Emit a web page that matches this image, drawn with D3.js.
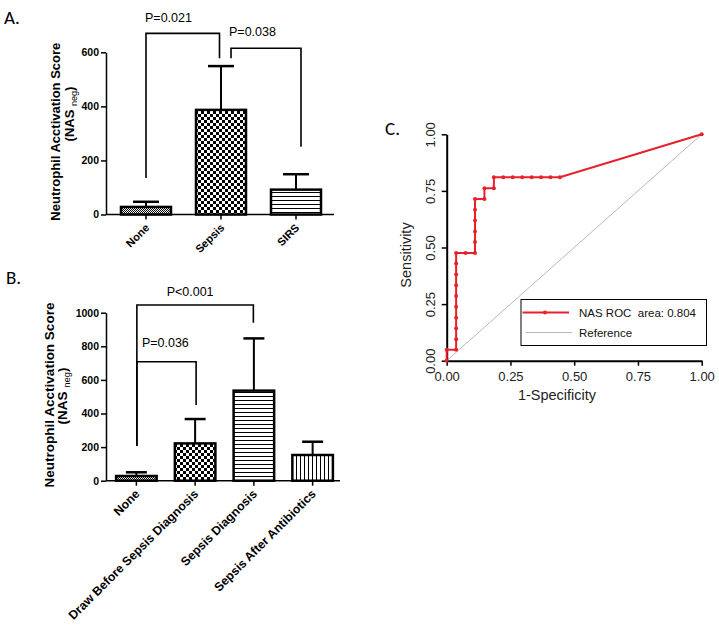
<!DOCTYPE html>
<html><head><meta charset="utf-8">
<script src="https://cdn.jsdelivr.net/npm/d3@7/dist/d3.min.js"></script>
<style>
html,body{margin:0;padding:0;background:#fff;}
svg{display:block;}
</style></head>
<body>
<svg id="c" width="719" height="628"></svg>
<script>
// ---------- DATA ----------
const catsA = ["None", "Sepsis", "SIRS"];
const meanA = [28, 387, 92];
const errA  = [47, 549, 149];
const patA  = ["fine", "checker", "hlines"];
const ticksA = [0, 200, 400, 600];

const catsB = ["None", "Draw Before Sepsis Diagnosis", "Sepsis Diagnosis", "Sepsis After Antibiotics"];
const meanB = [28, 222, 536, 153];
const errB  = [50, 367, 847, 232];
const patB  = ["fine", "checker", "hlines", "vlines"];
const ticksB = [0, 200, 400, 600, 800, 1000];

// brackets: [leftCat, rightCat, leftFootValue, topValue, rightFootValue, label]
const bracketsA = [
  ["None", "Sepsis", 135, 670, 578, "P=0.021"],
  ["Sepsis", "SIRS", 578, 615, 251, "P=0.038"]
];
const bracketsB = [
  ["None", "Sepsis Diagnosis", 207, 1046, 940, "P<0.001"],
  ["None", "Draw Before Sepsis Diagnosis", 207, 708, 450, "P=0.036"]
];

const rocFpr = [0, 0, 0.037, 0.037, 0.037, 0.037, 0.037, 0.037, 0.037, 0.037, 0.037, 0.037,
  0.074, 0.111, 0.111, 0.111, 0.111, 0.111, 0.111, 0.148, 0.148, 0.185, 0.185,
  0.222, 0.259, 0.296, 0.333, 0.370, 0.407, 0.444, 1];
const rocTpr = [0, 0.048, 0.048, 0.095, 0.143, 0.190, 0.238, 0.286, 0.333, 0.381, 0.429, 0.476,
  0.476, 0.476, 0.524, 0.571, 0.619, 0.667, 0.714, 0.714, 0.762, 0.762, 0.810,
  0.810, 0.810, 0.810, 0.810, 0.810, 0.810, 0.810, 1];
const rocTicks = [0, 0.25, 0.5, 0.75, 1];
const legendLabels = ["NAS ROC  area: 0.804", "Reference"];

// ---------- DRAW ----------
const svg = d3.select("#c");
const defs = svg.append("defs");
const FONT = "'Liberation Sans', Arial, sans-serif";
const LETTER_FONT = "Carlito, Calibri, 'Liberation Sans', sans-serif";

// patterns
function mkPattern(id, w, h, draw) {
  const p = defs.append("pattern").attr("id", id).attr("patternUnits", "userSpaceOnUse")
    .attr("width", w).attr("height", h);
  p.append("rect").attr("width", w).attr("height", h).attr("fill", "#fff");
  draw(p);
}
mkPattern("fine", 2, 2, p => {
  p.append("rect").attr("x", 0).attr("y", 0).attr("width", 1).attr("height", 1).attr("fill", "#000");
  p.append("rect").attr("x", 1).attr("y", 1).attr("width", 1).attr("height", 1).attr("fill", "#000");
});
mkPattern("checker", 6, 6, p => {
  p.append("rect").attr("x", 0).attr("y", 0).attr("width", 3).attr("height", 3).attr("fill", "#000");
  p.append("rect").attr("x", 3).attr("y", 3).attr("width", 3).attr("height", 3).attr("fill", "#000");
});
mkPattern("hlines", 4, 4, p => {
  p.append("rect").attr("x", 0).attr("y", 0).attr("width", 4).attr("height", 1).attr("fill", "#000");
});
mkPattern("vlines", 4, 4, p => {
  p.append("rect").attr("x", 0).attr("y", 0).attr("width", 1).attr("height", 4).attr("fill", "#000");
});

function barPanel(cfg) {
  const g = svg.append("g");
  const x = d3.scaleBand().domain(cfg.cats).range(cfg.xRange)
    .paddingInner(cfg.padIn).paddingOuter(cfg.padOut);
  const y = d3.scaleLinear().domain(cfg.yDomain).range(cfg.yRange);

  // y axis
  const ya = g.append("g").attr("transform", `translate(${cfg.axisX},0)`)
    .call(d3.axisLeft(y).tickValues(cfg.ticks).tickFormat(d3.format("d"))
      .tickSize(5).tickSizeOuter(0).tickPadding(2));
  ya.select(".domain").attr("stroke", "#000").attr("stroke-width", 1.5);
  ya.selectAll(".tick line").attr("stroke", "#000").attr("stroke-width", 1.5);
  ya.selectAll(".tick text").attr("font-family", FONT).attr("font-size", cfg.tickFont)
    .attr("font-weight", "bold").attr("fill", "#000");

  // x axis line
  const y0 = y(0);
  g.append("line").attr("x1", cfg.axisX).attr("x2", cfg.axisEnd).attr("y1", y0).attr("y2", y0)
    .attr("stroke", "#000").attr("stroke-width", 1.5);

  // bars
  const bw = x.bandwidth();
  cfg.cats.forEach((c, i) => {
    const cx = x(c) + bw / 2;
    g.append("line").attr("x1", cx).attr("x2", cx).attr("y1", y(cfg.mean[i])).attr("y2", y(cfg.err[i]))
      .attr("stroke", "#000").attr("stroke-width", 2);
    g.append("line").attr("x1", cx - cfg.cap / 2).attr("x2", cx + cfg.cap / 2)
      .attr("y1", y(cfg.err[i])).attr("y2", y(cfg.err[i]))
      .attr("stroke", "#000").attr("stroke-width", 2.5);
    g.append("rect").attr("x", x(c)).attr("y", y(cfg.mean[i]))
      .attr("width", bw).attr("height", y0 - y(cfg.mean[i]))
      .attr("fill", `url(#${cfg.pats[i]})`).attr("stroke", "#000").attr("stroke-width", 2.5);
    g.append("line").attr("x1", cx).attr("x2", cx).attr("y1", y0).attr("y2", y0 + 5)
      .attr("stroke", "#000").attr("stroke-width", 1.5);
    g.append("text").attr("transform", `translate(${cx + 4},${y0 + 14}) rotate(-45)`)
      .attr("text-anchor", "end").attr("font-family", FONT).attr("font-size", cfg.labFont)
      .attr("font-weight", "bold").attr("fill", "#000").text(c);
  });

  // brackets
  cfg.brackets.forEach((b, k) => {
    const L = cfg.brLayout[k];
    const xl = x(b[0]) + bw / 2 + L.dl, xr = x(b[1]) + bw / 2 + L.dr;
    g.append("path")
      .attr("d", `M${xl},${y(b[2])}V${y(b[3])}H${xr}V${y(b[4])}`)
      .attr("fill", "none").attr("stroke", "#000").attr("stroke-width", 1.6);
    g.append("text").attr("x", L.anchor === "middle" ? (xl + xr) / 2 + L.tx : xl + L.tx)
      .attr("y", y(b[3]) + L.ty).attr("text-anchor", L.anchor)
      .attr("font-family", FONT).attr("font-size", 12.5).attr("fill", "#000").text(b[5]);
  });

  // y title
  g.append("text").attr("transform", `translate(${cfg.title1[0]},${cfg.title1[1]}) rotate(-90)`)
    .attr("text-anchor", "middle").attr("font-family", FONT).attr("font-size", cfg.titleFont)
    .attr("font-weight", "bold").attr("fill", "#000").text("Neutrophil Acctivation Score");
  const t2 = g.append("text").attr("transform", `translate(${cfg.title2[0]},${cfg.title2[1]}) rotate(-90)`)
    .attr("text-anchor", "middle").attr("font-family", FONT).attr("font-size", cfg.titleFont)
    .attr("font-weight", "bold").attr("fill", "#000");
  t2.append("tspan").text("(NAS ");
  t2.append("tspan").attr("font-size", cfg.titleFont * 0.7).attr("font-weight", "normal")
    .attr("dy", 3).text("neg");
  t2.append("tspan").attr("dy", -3).text(")");

  svg.append("text").attr("x", cfg.letter[0]).attr("y", cfg.letter[1])
    .attr("font-family", LETTER_FONT).attr("font-size", 19).attr("fill", "#000")
    .text(cfg.letter[2]);
}

barPanel({
  cats: catsA, mean: meanA, err: errA, pats: patA, ticks: ticksA,
  xRange: [108.5, 333.5], padIn: 1/3, padOut: 1/6, yDomain: [0, 600], yRange: [214.5, 52.3],
  axisX: 106, axisEnd: 334, cap: 26, tickFont: 10.5, labFont: 11, titleFont: 13,
  brackets: bracketsA,
  brLayout: [{dl: 0, dr: -1.5, tx: -1, ty: -11, anchor: "start"}, {dl: 10, dr: 5, tx: -2, ty: -12, anchor: "start"}],
  title1: [59.5, 131.7], title2: [73.5, 114], letter: [4, 24, "A."]
});
barPanel({
  cats: catsB, mean: meanB, err: errB, pats: patB, ticks: ticksB,
  xRange: [107, 342], padIn: 0.31, padOut: 0.155, yDomain: [0, 1000], yRange: [480.7, 312.7],
  axisX: 106, axisEnd: 340, cap: 21, tickFont: 10.5, labFont: 12.3, titleFont: 13.5,
  brackets: bracketsB,
  brLayout: [{dl: 0.5, dr: -0.5, tx: -5, ty: -9, anchor: "middle"}, {dl: 0.5, dr: 1, tx: 5, ty: -15, anchor: "start"}],
  title1: [54, 395], title2: [66.5, 396], letter: [6, 284, "B."]
});

// ---------- ROC panel ----------
const gc = svg.append("g");
const xc = d3.scaleLinear().domain([0, 1]).range([446.7, 701.7]);
const yc = d3.scaleLinear().domain([0, 1]).range([360.7, 134.3]);

gc.append("line").attr("x1", xc(0)).attr("y1", yc(0)).attr("x2", xc(1)).attr("y2", yc(1))
  .attr("stroke", "#b8b8b8").attr("stroke-width", 1);

const xaC = gc.append("g").attr("transform", `translate(0,${yc(0)})`)
  .call(d3.axisBottom(xc).tickValues(rocTicks).tickFormat(d3.format(".2f")).tickSize(5).tickSizeOuter(0).tickPadding(6));
const yaC = gc.append("g").attr("transform", `translate(${xc(0)},0)`)
  .call(d3.axisLeft(yc).tickValues(rocTicks).tickFormat(d3.format(".2f")).tickSize(5).tickSizeOuter(0));
[xaC, yaC].forEach(a => {
  a.select(".domain").attr("stroke", "#000").attr("stroke-width", 2);
  a.selectAll(".tick line").attr("stroke", "#000").attr("stroke-width", 1.5);
  a.selectAll(".tick text").attr("font-family", FONT).attr("font-size", 13).attr("fill", "#222");
});
yaC.selectAll(".tick text").attr("x", null).attr("dy", null)
  .attr("text-anchor", "middle").attr("transform", "translate(-12,0) rotate(-90)");

const pts = rocFpr.map((f, i) => [f, rocTpr[i]]);
gc.append("path").datum(pts)
  .attr("d", d3.line().x(d => xc(d[0])).y(d => yc(d[1])))
  .attr("fill", "none").attr("stroke", "#e8202a").attr("stroke-width", 2);
gc.selectAll("circle.roc").data(pts).enter().append("circle").attr("class", "roc")
  .attr("cx", d => xc(d[0])).attr("cy", d => yc(d[1])).attr("r", 2).attr("fill", "#e8202a");

gc.append("text").attr("transform", `translate(411,255) rotate(-90)`).attr("text-anchor", "middle")
  .attr("font-family", FONT).attr("font-size", 14.5).attr("fill", "#222").text("Sensitivity");
gc.append("text").attr("x", 557).attr("y", 400).attr("text-anchor", "middle")
  .attr("font-family", FONT).attr("font-size", 14.5).attr("fill", "#222").text("1-Specificity");

const lg = gc.append("g");
lg.append("rect").attr("x", 521).attr("y", 299.5).attr("width", 185.5).attr("height", 46)
  .attr("fill", "#fff").attr("stroke", "#000").attr("stroke-width", 1);
lg.append("line").attr("x1", 522.5).attr("x2", 569).attr("y1", 312.5).attr("y2", 312.5)
  .attr("stroke", "#e8202a").attr("stroke-width", 2);
lg.append("circle").attr("cx", 545).attr("cy", 312.5).attr("r", 2).attr("fill", "#e8202a");
lg.append("line").attr("x1", 525.5).attr("x2", 572).attr("y1", 332.5).attr("y2", 332.5)
  .attr("stroke", "#b8b8b8").attr("stroke-width", 1);
lg.selectAll("text").data(legendLabels).enter().append("text")
  .attr("x", 579).attr("y", (d, i) => 316.5 + i * 20)
  .attr("font-family", FONT).attr("font-size", 11.5).attr("fill", "#111")
  .attr("xml:space", "preserve").style("white-space", "pre").text(d => d);

svg.append("text").attr("x", 385).attr("y", 135).attr("font-family", LETTER_FONT)
  .attr("font-size", 19).attr("fill", "#000").text("C.");
</script>
</body></html>
